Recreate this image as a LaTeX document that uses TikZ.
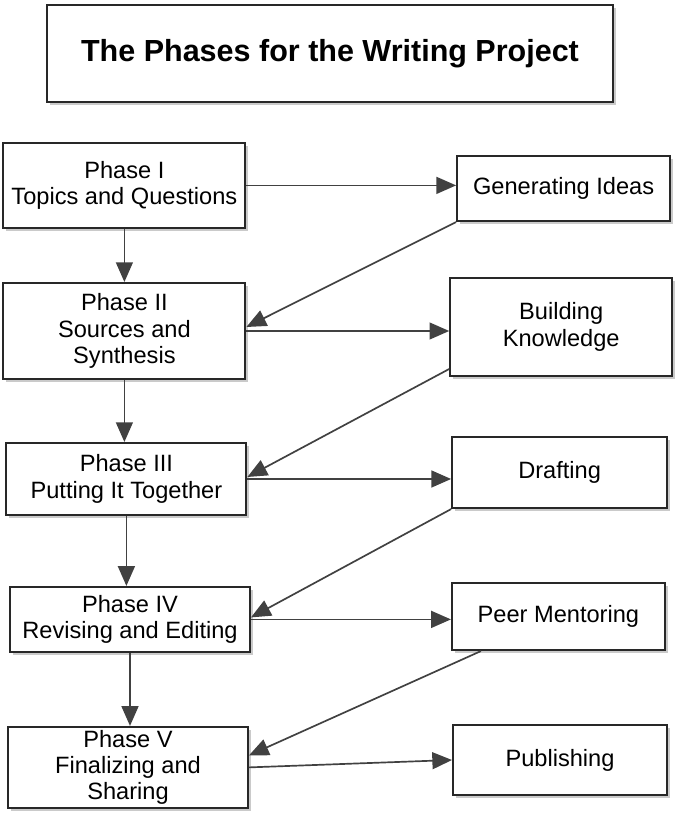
\documentclass[tikz,border=0pt]{standalone}
\usepackage{fontspec}
\setmainfont{Liberation Sans}
\usepackage{xcolor}
\usepackage{tikz}
\usetikzlibrary{shapes,arrows,arrows.meta,positioning,calc,shadows}
\definecolor{boxline}{RGB}{40,40,40}
\definecolor{arrowcolor}{RGB}{65,65,65}
\definecolor{shadowcolor}{RGB}{150,150,150}

\begin{document}
\begin{tikzpicture}[
    box/.style={rectangle, draw=boxline, line width=1.4pt, fill=white, align=center, inner sep=0pt, font=\fontsize{16.8}{18.8}\selectfont, drop shadow={shadow xshift=2pt, shadow yshift=-2pt, fill=shadowcolor}},
    phase/.style={box, minimum width=6.05cm},
    step box/.style={box},
    arrow/.style={-{Triangle[length=14pt,width=12pt]}, line width=1.2pt, draw=arrowcolor}
]
\useasboundingbox (0,0) rectangle (16.875,20.375);

\node[box, minimum width=14.15cm, minimum height=2.425cm, font=\fontsize{21.7}{24}\selectfont\bfseries] (title) at (8.25, 19.04) {The Phases for the Writing Project};

% phases (left column)
\node[phase, minimum height=2.125cm] (p1) at (3.11, 15.74) {Phase I\\Topics and Questions};
\node[phase, minimum height=2.4cm] (p2) at (3.11, 12.10) {Phase II\\Sources and\\Synthesis};
\node[phase, minimum width=6.0cm, minimum height=1.8cm] (p3) at (3.16, 8.40) {Phase III\\Putting It Together};
\node[phase, minimum width=6.0cm, minimum height=1.625cm] (p4) at (3.25, 4.89) {Phase IV\\Revising and Editing};
\node[phase, minimum width=6.0cm, minimum height=2.025cm] (p5) at (3.20, 1.19) {Phase V\\Finalizing and\\Sharing};

% activities (right column)
\node[step box, minimum width=5.325cm, minimum height=1.625cm] (gen) at (14.09, 15.66) {Generating Ideas};
\node[step box, minimum width=5.55cm, minimum height=2.45cm] (know) at (14.03, 12.20) {Building\\Knowledge};
\node[step box, minimum width=5.375cm, minimum height=1.775cm] (draft) at (13.99, 8.56) {Drafting};
\node[step box, minimum width=5.325cm, minimum height=1.675cm] (peer) at (13.96, 4.96) {Peer Mentoring};
\node[step box, minimum width=5.35cm, minimum height=1.75cm] (pub) at (14.00, 1.375) {Publishing};

\draw[arrow] (p1.south) -- (p1.south |- p2.north);
\draw[arrow] (p2.south) -- (p2.south |- p3.north);
\draw[arrow] (p3.south) -- (p3.south |- p4.north);
\draw[arrow] (p4.south) -- (p4.south |- p5.north);

\draw[arrow] (p1.east) -- (p1.east -| gen.west);
\draw[arrow] (p2.east) -- (p2.east -| know.west);
\draw[arrow] (p3.east) -- (p3.east -| draft.west);
\draw[arrow] (p4.east) -- (p4.east -| peer.west);
\draw[arrow] (p5.east) -- (pub.west);

\draw[arrow] (gen.south west) -- ($(p2.east)+(0,0.1)$);
\draw[arrow] ($(know.south west)+(0,0.2)$) -- ($(p3.east)+(0,0.05)$);
\draw[arrow] (draft.south west) -- ($(p4.east)+(0,0.05)$);
\draw[arrow] ($(peer.south west)+(0.75,0)$) -- ($(p5.east)+(0,0.3)$);

\end{tikzpicture}
\end{document}
